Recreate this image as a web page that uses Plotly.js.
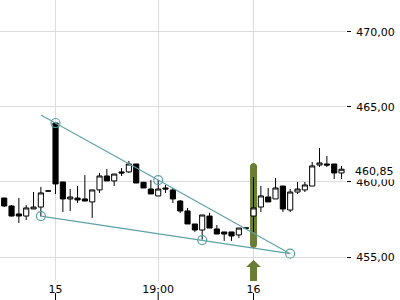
<!DOCTYPE html>
<html>
<head>
<meta charset="utf-8">
<script src="https://cdn.plot.ly/plotly-3.0.1.min.js"></script>
<style>html,body{margin:0;padding:0;background:#fff;}#chart{width:400px;height:300px;}</style>
</head>
<body>
<div id="chart"></div>
<script>
// Candle data (index positions on the time axis)
const barIndex = [0,1,2,3,4,5,6,7,8,9,10,11,12,13,14,15,16,17,18,19,20,21,22,23,24,25,26,27,28,29,30,31,32,33,34,35,36,37,38,39,40,41,42,43,44,45,46];
const openP  = [458.93,458.40,457.87,457.73,458.20,458.33,459.40,463.93,460.00,458.87,458.93,458.87,458.67,459.47,460.40,460.07,460.67,460.67,461.20,459.98,459.53,459.07,459.60,459.47,458.73,458.07,457.20,456.80,457.73,456.87,456.67,456.67,456.47,456.93,457.73,458.33,459.00,458.87,459.73,458.13,459.33,459.47,459.73,461.13,461.20,461.20,460.60];
const highP  = [458.95,458.47,458.93,458.47,459.33,459.67,459.42,463.93,460.00,459.53,459.73,460.47,459.47,460.60,460.87,460.53,460.93,461.40,461.20,460.00,460.13,460.13,459.80,459.60,458.80,458.27,457.20,457.80,457.95,457.13,456.67,456.67,456.93,456.95,460.33,459.73,459.60,460.27,459.73,459.53,460.00,460.00,461.33,462.27,461.73,461.20,461.07];
const lowP   = [458.33,457.70,457.27,457.47,458.20,457.70,459.38,459.20,458.00,458.07,458.60,458.73,457.60,459.27,460.07,459.73,460.40,460.60,459.93,459.60,459.20,459.07,459.27,458.60,457.93,457.20,456.67,456.15,456.93,456.53,456.07,456.07,456.27,456.91,456.67,458.00,458.67,458.87,458.00,458.00,459.20,459.33,459.73,461.00,461.00,460.20,460.20];
const closeP = [458.40,457.73,457.73,458.27,458.33,459.27,459.40,459.87,458.87,459.00,458.80,458.73,459.47,460.40,460.07,460.53,460.60,461.20,459.93,459.60,459.20,459.53,459.53,458.87,458.07,457.20,456.80,457.80,456.93,456.53,456.53,456.40,456.93,456.93,458.27,459.07,458.67,459.60,458.20,459.33,459.53,459.80,461.07,461.27,461.13,460.60,460.85];

// Axis ticks
const xTickVals = [7, 21, 34];
const xTickText = ["15", "19:00", "16"];
const yTickVals = [455, 460, 465, 470];

// Trend lines (pivot points)
const upperX = [5, 7, 21, 39];
const upperY = [464.47, 463.93, 460.13, 455.22];
const lowerX = [5, 27, 39];
const lowerY = [457.73, 456.13, 455.22];
const pivotX = [7, 21, 39, 5, 27];
const pivotY = [463.93, 460.13, 455.22, 457.73, 456.13];

// Highlighted signal bar
const signalIndex = 34;
const signalRange = [455.6, 461.27];

const lastPrice = closeP[closeP.length - 1];

const teal = '#5ea3a8';
const olive = '#6a7d35';

const traces = [
  {
    type: 'candlestick', x: barIndex, open: openP, high: highP, low: lowP, close: closeP,
    increasing: {line: {color: '#000', width: 1}, fillcolor: '#ffffff'},
    decreasing: {line: {color: '#000', width: 1}, fillcolor: '#000000'},
    whiskerwidth: 0, hoverinfo: 'skip', showlegend: false
  },
  {type: 'scatter', mode: 'lines', x: upperX, y: upperY, line: {color: teal, width: 1.2}, hoverinfo: 'skip', showlegend: false},
  {type: 'scatter', mode: 'lines', x: lowerX, y: lowerY, line: {color: teal, width: 1.2}, hoverinfo: 'skip', showlegend: false},
  {type: 'scatter', mode: 'markers', x: pivotX, y: pivotY,
   marker: {symbol: 'circle-open', size: 9, color: teal, line: {width: 1.2, color: teal}}, hoverinfo: 'skip', showlegend: false}
];

// rounded pill path (x in pixels around the bar, y in data units)
const r = 3.5, ry = r / 15;
const yTop = signalRange[1] - ry, yBot = signalRange[0] + ry, k = 4/3 * ry;
const pillPath = `M ${-r},${yTop} C ${-r},${yTop + k} ${r},${yTop + k} ${r},${yTop} L ${r},${yBot} C ${r},${yBot - k} ${-r},${yBot - k} ${-r},${yBot} Z`;

const shapes = [
  {type: 'path', layer: 'between', xref: 'x', yref: 'y', xsizemode: 'pixel', xanchor: signalIndex,
   path: pillPath, fillcolor: olive, line: {width: 0}},
  {type: 'path', layer: 'above', xref: 'x', yref: 'paper', xsizemode: 'pixel', ysizemode: 'pixel',
   xanchor: signalIndex, yanchor: 0,
   path: 'M -3.5,0 L 3.5,0 L 3.5,14 L 7.5,14 L 0,21 L -7.5,14 L -3.5,14 Z', fillcolor: olive, line: {width: 0}}
];
xTickVals.forEach(v => shapes.push({type: 'line', xref: 'x', yref: 'paper', x0: v, x1: v, y0: -0.043, y1: -0.075,
  line: {color: '#000', width: 1}, layer: 'above'}));

const layout = {
  width: 400, height: 300,
  margin: {l: 0, r: 54, t: 0, b: 19},
  paper_bgcolor: '#fff', plot_bgcolor: '#fff',
  separators: ', ',
  font: {family: 'DejaVu Sans', size: 11, color: '#000'},
  showlegend: false, hovermode: false,
  boxgap: 0.3, boxgroupgap: 0,
  xaxis: {
    range: [-0.573, 46.61], rangeslider: {visible: false},
    tickmode: 'array', tickvals: xTickVals, ticktext: xTickText,
    showgrid: true, gridcolor: '#dcdcdc', gridwidth: 1, zeroline: false, showline: false,
    ticks: '', ticklabelstandoff: 0, tickfont: {family: 'DejaVu Sans', size: 11, color: '#000'}
  },
  yaxis: {
    side: 'right', range: [453.4, 472.13],
    tickmode: 'array', tickvals: yTickVals, tickformat: '.2f',
    showgrid: true, gridcolor: '#dcdcdc', gridwidth: 1, zeroline: false, showline: false,
    ticks: 'outside', ticklen: 4, tickcolor: '#000', tickwidth: 1, ticklabelstandoff: 3,
    tickfont: {family: 'DejaVu Sans', size: 11, color: '#000'}
  },
  shapes: shapes,
  annotations: [{
    xref: 'paper', x: 1, xanchor: 'left', xshift: 7,
    yref: 'y', y: lastPrice, yanchor: 'middle', yshift: -2,
    text: lastPrice.toFixed(2).replace('.', ','), showarrow: false,
    bgcolor: '#ffffff', borderpad: 1,
    font: {family: 'DejaVu Sans', size: 11, color: '#000'}
  }]
};

Plotly.newPlot('chart', traces, layout, {staticPlot: true, displayModeBar: false});
</script>
</body>
</html>
